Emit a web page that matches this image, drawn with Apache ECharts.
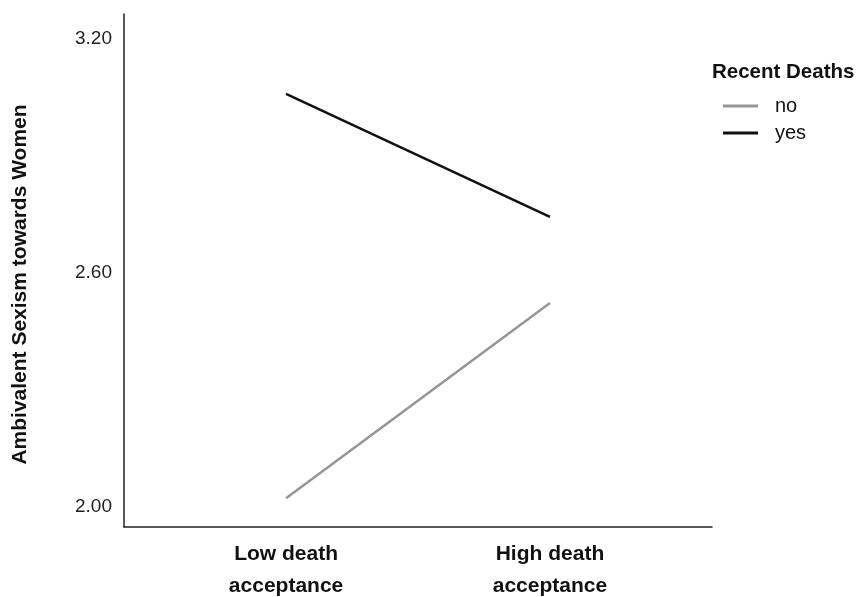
<!DOCTYPE html>
<html>
<head>
<meta charset="utf-8">
<script src="https://cdn.jsdelivr.net/npm/echarts@6/dist/echarts.min.js"></script>
<style>
  html, body { margin: 0; padding: 0; background: #fff; }
  #main { width: 861px; height: 597px; }
</style>
</head>
<body>
<div id="main"></div>
<script>
// categories on the x axis (positions 0 and 1)
var categories = ['Low death\nacceptance', 'High death\nacceptance'];
var catPos = [0, 1];
// mean Ambivalent Sexism by group
var seriesNames = ['no', 'yes'];
var noValues = [2.023, 2.523];
var yesValues = [3.059, 2.744];
// y tick labels shown
var yTicks = [2.0, 2.6, 3.2];

var chart = echarts.init(document.getElementById('main'));
var font = 'Liberation Sans, Arial, sans-serif';

function pairs(vals) {
  var out = [];
  for (var i = 0; i < vals.length; i++) {
    out.push([catPos[i], vals[i]]);
  }
  return out;
}

var option = {
  animation: false,
  backgroundColor: '#fff',
  title: {
    text: 'Recent Deaths',
    left: 707,
    top: 57,
    textStyle: { fontFamily: font, fontSize: 20.5, fontWeight: 'bold', color: '#111' }
  },
  legend: {
    orient: 'vertical',
    left: 718,
    top: 91,
    icon: 'rect',
    itemWidth: 35,
    itemHeight: 3,
    itemGap: 7,
    data: seriesNames,
    textStyle: { fontFamily: font, fontSize: 20, color: '#111', lineHeight: 20, padding: [0, 0, 0, 12] }
  },
  grid: { left: 124, top: 14, right: 149, bottom: 70, containLabel: false, outerBoundsMode: 'none' },
  xAxis: {
    type: 'value',
    min: -0.614,
    max: 1.614,
    splitLine: { show: false },
    axisTick: { show: false },
    axisLine: { show: true, onZero: false, lineStyle: { color: '#222', width: 1.5 } },
    axisLabel: {
      customValues: catPos,
      margin: 11,
      lineHeight: 32,
      fontFamily: font,
      fontSize: 21,
      fontWeight: 'bold',
      color: '#111',
      formatter: function(v) {
        var idx = catPos.indexOf(Math.round(v));
        return idx >= 0 ? categories[idx] : '';
      }
    }
  },
  yAxis: {
    type: 'value',
    min: 1.949,
    max: 3.264,
    name: 'Ambivalent Sexism towards Women',
    nameLocation: 'middle',
    nameGap: 93,
    nameTextStyle: { fontFamily: font, fontSize: 21, fontWeight: 'bold', color: '#111', padding: [0, 28, 0, 0] },
    splitLine: { show: false },
    axisTick: { show: false },
    axisLine: { show: true, onZero: false, lineStyle: { color: '#222', width: 1.5 } },
    axisLabel: {
      customValues: yTicks,
      margin: 12,
      fontFamily: font,
      fontSize: 19,
      color: '#222',
      formatter: function(v) { return v.toFixed(2); }
    }
  },
  series: [{
    name: 'no',
    type: 'line',
    data: pairs(noValues),
    symbol: 'none',
    lineStyle: { color: '#969696', width: 2.5 },
    itemStyle: { color: '#969696' }
  }, {
    name: 'yes',
    type: 'line',
    data: pairs(yesValues),
    symbol: 'none',
    lineStyle: { color: '#111', width: 2.5 },
    itemStyle: { color: '#111' }
  }]
};

chart.setOption(option);
</script>
</body>
</html>
